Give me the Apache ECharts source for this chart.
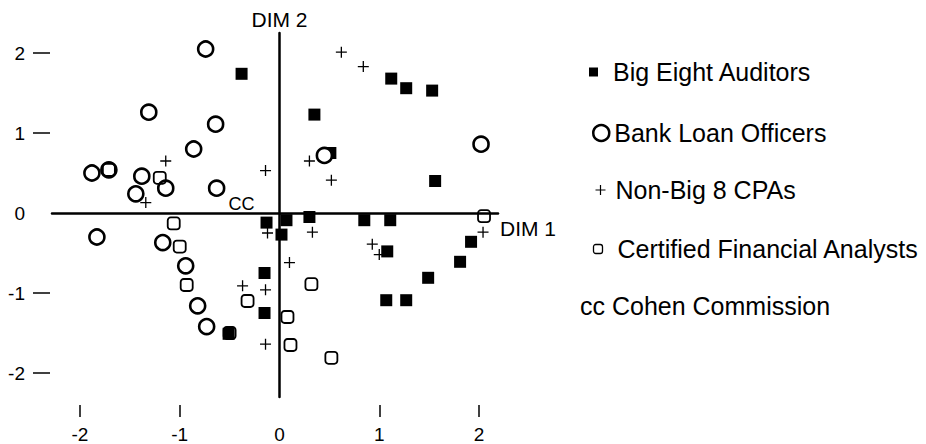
<!DOCTYPE html>
<html>
<head>
<meta charset="utf-8">
<script src="https://cdn.jsdelivr.net/npm/echarts@6/dist/echarts.min.js"></script>
<style>
html, body { margin: 0; background: #fff; }
#chart { width: 926px; height: 444px; }
</style>
</head>
<body>
<div id="chart"></div>
<script>
// points, [dim1, dim2]
var bigEight = [[-0.38, 1.74], [0.35, 1.23], [1.12, 1.68], [1.27, 1.56], [1.53, 1.53], [0.51, 0.75],
    [1.56, 0.40], [0.30, -0.05], [0.85, -0.09], [1.11, -0.09], [1.92, -0.36], [1.81, -0.61],
    [1.49, -0.81], [1.08, -0.48], [1.07, -1.09], [1.27, -1.09], [-0.13, -0.12], [0.07, -0.09],
    [0.02, -0.27], [-0.15, -0.75], [-0.15, -1.25], [-0.51, -1.51]];
var bankLoan = [[-0.74, 2.05], [-1.31, 1.26], [-0.64, 1.11], [-0.86, 0.80], [-1.88, 0.50], [-1.71, 0.54],
    [-1.38, 0.46], [-1.14, 0.31], [-1.44, 0.24], [-0.63, 0.31], [0.45, 0.72], [2.02, 0.86],
    [-1.83, -0.30], [-1.17, -0.37], [-0.94, -0.66], [-0.82, -1.16], [-0.73, -1.42]];
var nonBig8 = [[0.62, 2.01], [0.84, 1.83], [0.30, 0.65], [0.52, 0.41], [-1.14, 0.65], [-0.14, 0.53],
    [-1.34, 0.13], [-0.12, -0.25], [0.33, -0.24], [0.10, -0.62], [-0.37, -0.91], [-0.14, -0.96],
    [-0.14, -1.64], [0.93, -0.39], [1.00, -0.52], [2.04, -0.24]];
var analysts = [[-1.20, 0.44], [-1.71, 0.54], [-1.06, -0.13], [-1.00, -0.42], [-0.93, -0.90], [-0.32, -1.10],
    [-0.50, -1.50], [0.32, -0.89], [0.08, -1.30], [0.11, -1.65], [0.52, -1.81], [2.05, -0.04]];
var cohen = [[-0.38, 0.11]];

var names = ['Big Eight Auditors', 'Bank Loan Officers', 'Non-Big 8 CPAs', 'Certified Financial Analysts', 'Cohen Commission'];
var xTicks = [-2, -1, 1, 2];
var xLabels = [-2, -1, 0, 1, 2];
var yTicks = [-2, -1, 1, 2];
var yLabels = [-2, -1, 0, 1, 2];

var font = "'Liberation Sans', Arial, Helvetica, sans-serif";
var plus = 'path://M5,0V10M0,5H10';

var chart = echarts.init(document.getElementById('chart'), null, { renderer: 'svg' });

var legendText = { fontFamily: font, fontSize: 25, color: '#000' };

option = {
    animation: false,
    textStyle: { fontFamily: font, color: '#000' },
    grid: { left: 52, top: 33, width: 446, height: 364 },
    xAxis: [
        {
            type: 'value', min: -2.28, max: 2.19,
            axisLine: { onZero: true, onZeroAxisIndex: 0, lineStyle: { color: '#000', width: 2.5 } },
            axisTick: { show: false },
            axisLabel: { show: false },
            splitLine: { show: false },
            name: 'DIM 1', nameLocation: 'end', nameGap: 2,
            nameTextStyle: { fontFamily: font, fontSize: 21, color: '#000', verticalAlign: 'top', padding: [5, 0, 0, 0] }
        },
        {
            type: 'value', min: -2.28, max: 2.19, position: 'bottom', offset: 8,
            axisLine: { show: false, onZero: false },
            axisTick: { show: true, customValues: xTicks, length: 12, lineStyle: { color: '#000', width: 1.5 } },
            axisLabel: { customValues: xLabels, margin: 20, fontSize: 19, color: '#000', fontFamily: font },
            splitLine: { show: false }
        }
    ],
    yAxis: [
        {
            type: 'value', min: -2.3, max: 2.25,
            axisLine: { onZero: true, onZeroAxisIndex: 0, lineStyle: { color: '#000', width: 2.5 } },
            axisTick: { show: false },
            axisLabel: { show: false },
            splitLine: { show: false },
            name: 'DIM 2', nameLocation: 'end', nameGap: 3,
            nameTextStyle: { fontFamily: font, fontSize: 21, color: '#000' }
        },
        {
            type: 'value', min: -2.3, max: 2.25, position: 'left', offset: 2,
            axisLine: { show: false, onZero: false },
            axisTick: { show: true, customValues: yTicks, length: 17, lineStyle: { color: '#000', width: 1.5 } },
            axisLabel: { customValues: yLabels, margin: 25, fontSize: 19, color: '#000', fontFamily: font },
            splitLine: { show: false }
        }
    ],
    legend: [
        {
            data: [names[0]], left: 589, top: 59.5, padding: 0, itemWidth: 9, itemHeight: 9, icon: 'rect',
            selectedMode: false, itemStyle: { color: '#000', opacity: 1 },
            textStyle: Object.assign({ padding: [0, 0, 0, 10] }, legendText)
        },
        {
            data: [names[1]], left: 592, top: 120.5, padding: 0, itemWidth: 16, itemHeight: 16, icon: 'circle',
            selectedMode: false, itemStyle: { color: '#fff', borderColor: '#000', borderWidth: 2.5, opacity: 1 },
            textStyle: Object.assign({ padding: [0, 0, 0, 0] }, legendText)
        },
        {
            data: [names[2]], left: 593, top: 177.5, padding: 0, itemWidth: 10, itemHeight: 10, icon: plus,
            selectedMode: false, itemStyle: { color: 'none', borderColor: '#000', borderWidth: 1.2, opacity: 1 },
            textStyle: Object.assign({ padding: [0, 0, 0, 5] }, legendText)
        },
        {
            data: [names[3]], left: 591, top: 236.5, padding: 0, itemWidth: 9, itemHeight: 9, icon: 'roundRect',
            selectedMode: false, itemStyle: { color: 'none', borderColor: '#000', borderWidth: 1.3, opacity: 1 },
            textStyle: Object.assign({ padding: [0, 0, 0, 10] }, legendText)
        },
        {
            data: [names[4]], left: 575, top: 293.5, padding: 0, itemWidth: 0, itemHeight: 25, icon: 'none',
            selectedMode: false, formatter: 'cc {name}',
            textStyle: Object.assign({ padding: [0, 0, 0, 0] }, legendText)
        }
    ],
    series: [
        {
            name: names[0], type: 'scatter', data: bigEight, symbol: 'rect', symbolSize: 12,
            itemStyle: { color: '#000', opacity: 1 }, silent: true
        },
        {
            name: names[1], type: 'scatter', data: bankLoan, symbol: 'circle', symbolSize: 15,
            itemStyle: { color: '#fff', borderColor: '#000', borderWidth: 2.6, opacity: 1 }, silent: true
        },
        {
            name: names[2], type: 'scatter', data: nonBig8, symbol: plus, symbolSize: 11,
            itemStyle: { color: 'none', borderColor: '#000', borderWidth: 1.3, opacity: 1 }, silent: true
        },
        {
            name: names[3], type: 'scatter', data: analysts, symbol: 'roundRect', symbolSize: 12,
            itemStyle: { color: 'rgba(0,0,0,0)', borderColor: '#000', borderWidth: 1.8, opacity: 1 }, silent: true
        },
        {
            name: names[4], type: 'scatter', data: cohen, symbol: 'circle', symbolSize: 1,
            itemStyle: { color: 'rgba(0,0,0,0)', opacity: 1 }, silent: true,
            label: { show: true, position: 'inside', formatter: 'CC', fontSize: 18, color: '#000', fontFamily: font }
        }
    ]
};

chart.setOption(option);
</script>
</body>
</html>
